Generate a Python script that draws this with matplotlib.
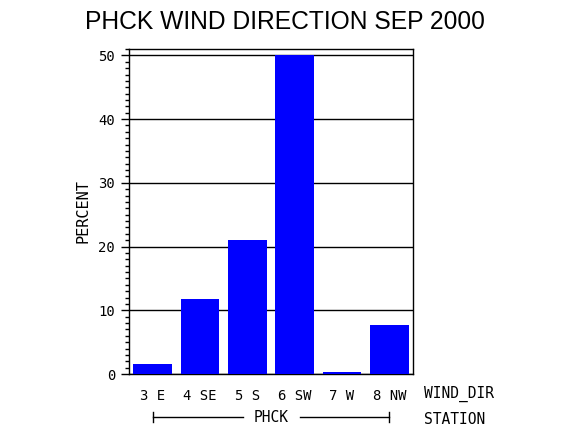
import matplotlib
matplotlib.use("Agg")
from matplotlib import pyplot as plt
from matplotlib.ticker import MultipleLocator

directions = ["3 E", "4 SE", "5 S", "6 SW", "7 W", "8 NW"]
percent = [1.6, 11.8, 21.0, 50.0, 0.35, 7.7]
station = "PHCK"
title = "PHCK WIND DIRECTION SEP 2000"

mono = "DejaVu Sans Mono"

fig = plt.figure(figsize=(5.7, 4.3), dpi=100)
ax = fig.add_axes([0.2263, 0.1302, 0.4983, 0.7558])

x = range(len(directions))
ax.bar(x, percent, width=0.82, color="#0000ff", zorder=3)
ax.set_xlim(-0.5, len(directions) - 0.5)
ax.set_ylim(0, 51)

ax.yaxis.set_major_locator(MultipleLocator(10))
ax.yaxis.set_minor_locator(MultipleLocator(1))
ax.grid(axis="y", which="major", color="black", linewidth=1.0, zorder=1)

for s in ax.spines.values():
    s.set_linewidth(1.0)

ax.tick_params(axis="y", which="major", direction="out", length=6, width=1,
               labelsize=10, pad=4)
ax.tick_params(axis="y", which="minor", direction="out", length=3, width=1)
for lab in ax.get_yticklabels():
    lab.set_family(mono)

ax.set_xticks(list(x))
ax.set_xticklabels(directions, family=mono, fontsize=10)
ax.tick_params(axis="x", length=0, pad=11)

ax.set_ylabel("PERCENT", family=mono, fontsize=11, labelpad=6)

# right-side labels for the category rows
fig.text(424 / 570, 1 - 394 / 430, "WIND_DIR", family=mono, fontsize=10.5,
         va="center", ha="left")
fig.text(424 / 570, 1 - 419 / 430, "STATION", family=mono, fontsize=10.5,
         va="center", ha="left")

# station bracket under the categories
yb = 1 - 417 / 430
x0, x1 = 153 / 570, 389 / 570
xm = (x0 + x1) / 2
fig.text(xm, yb, station, family=mono, fontsize=10.5, ha="center", va="center")
fig.add_artist(plt.Line2D([x0, xm - 0.05], [yb, yb], color="black", lw=1))
fig.add_artist(plt.Line2D([xm + 0.05, x1], [yb, yb], color="black", lw=1))
fig.add_artist(plt.Line2D([x0, x0], [yb - 0.012, yb + 0.012], color="black", lw=1))
fig.add_artist(plt.Line2D([x1, x1], [yb - 0.012, yb + 0.012], color="black", lw=1))

fig.text(0.5, 1 - 22 / 430, title, family="Liberation Sans", fontsize=17.7,
         ha="center", va="center")

plt.savefig("out.png", dpi=100)
